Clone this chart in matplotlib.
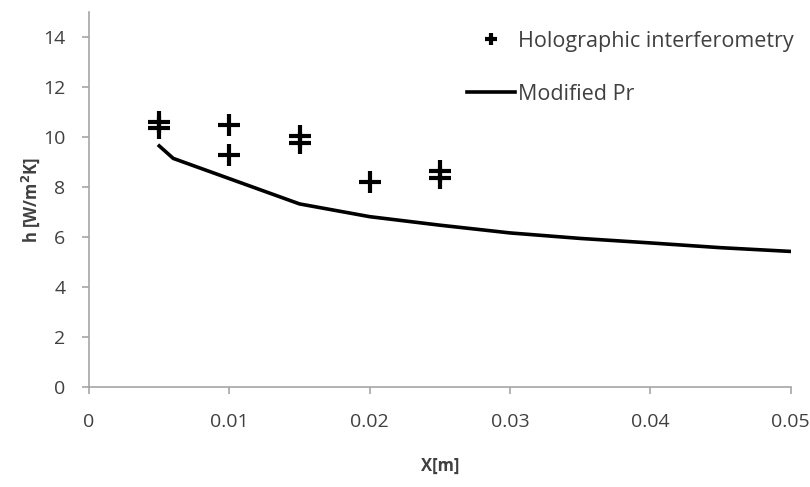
import matplotlib
matplotlib.use("Agg")
import matplotlib.pyplot as plt

plt.rcParams['font.family'] = ['Open Sans', 'DejaVu Sans']

# Holographic interferometry measurements
holo_x = [0.005, 0.005, 0.01, 0.01, 0.015, 0.015, 0.02, 0.025, 0.025]
holo_h = [10.6, 10.38, 10.5, 9.28, 10.05, 9.78, 8.2, 8.65, 8.37]

# Modified Pr curve
mod_x = [0.005, 0.006, 0.015, 0.02, 0.025, 0.03, 0.035, 0.04, 0.045, 0.05]
mod_h = [9.65, 9.15, 7.33, 6.82, 6.48, 6.17, 5.95, 5.77, 5.58, 5.43]

x_ticks = [0, 0.01, 0.02, 0.03, 0.04, 0.05]
x_tick_labels = ["0", "0.01", "0.02", "0.03", "0.04", "0.05"]
y_ticks = [0, 2, 4, 6, 8, 10, 12, 14]

fig = plt.figure(figsize=(8.1, 4.87), dpi=100)
ax = fig.add_axes([0.110, 0.205, 0.866, 0.770])

txt = '#404040'
gray = '#a6a6a6'

ax.plot(holo_x, holo_h, linestyle='none', marker='+', color='black',
        markersize=16, markeredgewidth=3.0, label='Holographic interferometry')
ax.plot(mod_x, mod_h, color='black', linewidth=2.6, label='Modified Pr')

ax.set_xlim(0, 0.05)
ax.set_ylim(0, 15)
ax.set_xticks(x_ticks)
ax.set_xticklabels(x_tick_labels)
ax.set_yticks(y_ticks)

for s in ['top', 'right']:
    ax.spines[s].set_visible(False)
for s in ['left', 'bottom']:
    ax.spines[s].set_color(gray)
    ax.spines[s].set_linewidth(1.2)
ax.tick_params(axis='both', colors=gray, length=5, width=1.2, direction='out',
               labelcolor=txt, labelsize=14)
ax.tick_params(axis='x', pad=13.5)
ax.tick_params(axis='y', pad=12)

ax.set_xlabel('X[m]', fontsize=12, fontweight='bold', color=txt, labelpad=19)
ax.set_ylabel('h [W/m$^\\mathbf{2}$K]', fontsize=12, fontweight='bold', color=txt, labelpad=0.5)

leg = ax.legend(loc='upper left', bbox_to_anchor=(467 / 810, 1 - 31 / 487),
                bbox_transform=fig.transFigure, frameon=False, borderpad=0,
                borderaxespad=0, fontsize=15.5, labelspacing=1.48,
                handlelength=2.23, handletextpad=0.15, markerscale=0.55)
for t in leg.get_texts():
    t.set_color(txt)

fig.savefig('out.png', dpi=100)
